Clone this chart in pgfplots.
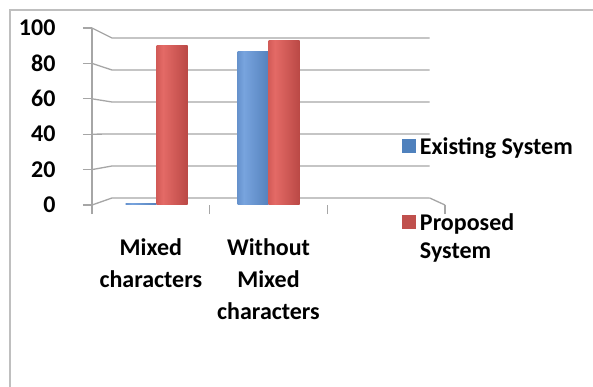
\documentclass[border=0pt]{standalone}
\usepackage{pgfplots}
\pgfplotsset{compat=1.18}
\usepackage{fontspec}
\setmainfont{Carlito}
\definecolor{gridgray}{HTML}{A6A6A6}
\definecolor{frame}{HTML}{BFBFBF}
\definecolor{blueE}{HTML}{3A66A2}
\definecolor{blueH}{HTML}{78A4DE}
\definecolor{blueE2}{HTML}{3F6CA8}
\definecolor{redE}{HTML}{A83835}
\definecolor{redH}{HTML}{E46A66}
\definecolor{redE2}{HTML}{A03431}
\definecolor{exblue}{HTML}{4F81BD}
\definecolor{prred}{HTML}{C0504D}
\pgfdeclarehorizontalshading{bluecyl}{100bp}{color(0bp)=(blueE); color(35bp)=(blueH); color(100bp)=(blueE2)}
\pgfdeclarehorizontalshading{redcyl}{100bp}{color(0bp)=(redE); color(35bp)=(redH); color(100bp)=(redE2)}
\newcommand{\lab}{\fontsize{24bp}{32bp}\selectfont\bfseries}
\newcommand{\st}{\rule[-9bp]{0pt}{28bp}}
\begin{document}
\begin{tikzpicture}
\useasboundingbox (0,0) rectangle (593bp,387bp);
\fill[white] (0,0) rectangle (593bp,387bp);
\draw[frame, line width=1.6bp] (10bp,0) -- (10bp,377bp) -- (593bp,377bp);
\begin{axis}[
  at={(92bp,182bp)}, anchor=south west,
  scale only axis, width=353bp, height=177bp,
  xmin=0, xmax=3, ymin=0, ymax=100,
  axis x line*=bottom, axis y line*=left,
  x axis line style={draw=none},
  y axis line style={gridgray, line width=1.3bp},
  tick align=outside, major tick length=9bp,
  tick style={gridgray, line width=1.3bp},
  ytick={0,20,40,60,80,100},
  xtick={0,1,2,3}, xticklabels={},
  extra x ticks={0.5,1.5},
  extra x tick labels={{Mixed\\characters},{Without\\Mixed\\characters}},
  extra x tick style={major tick length=0pt,
     xticklabel style={align=center, anchor=north, yshift=-30bp}},
  /pgf/number format/assume math mode=true,
  yticklabel style={anchor=east, xshift=-24bp},
  tick label style={font=\lab, text=black},
  clip=false,
  legend style={at={(axis description cs:0.868,0.403)}, anchor=north west,
     draw=none, fill=none, font=\lab, row sep=7.5bp,
     nodes={inner sep=0pt}, column sep=5bp},
  legend cell align=left,
]
% back wall gridlines with perspective
\pgfplotsinvokeforeach{0,20,40,60,80,100}{
  \draw[gridgray, line width=1.3bp] (axis cs:0,#1) -- (axis cs:0.17,{(7+1.6*#1)/1.77}) -- (axis cs:2.87,{(7+1.6*#1)/1.77});
}
\draw[gridgray, line width=1.3bp] (axis cs:2.87,{7/1.77}) -- (axis cs:3,0);
% Existing System
\addplot[ybar, bar width=31bp, bar shift=-15.5bp, draw=none,
   shade, shading=bluecyl, forget plot] coordinates {(0.55,1)};
\addplot[ybar, bar width=31bp, bar shift=-15.5bp, draw=none,
   shade, shading=bluecyl, forget plot] coordinates {(1.5,87)};
% Proposed System
\addplot[ybar, bar width=31bp, bar shift=15.5bp, draw=none,
   shade, shading=redcyl, forget plot] coordinates {(0.55,90)};
\addplot[ybar, bar width=31bp, bar shift=15.5bp, draw=none,
   shade, shading=redcyl, forget plot] coordinates {(1.5,93)};
\addlegendimage{legend image code/.code={\fill[exblue] (0bp,-6.5bp) rectangle (13bp,6.5bp);}}
\addlegendentry{\st Existing System}
\addlegendimage{empty legend}
\addlegendentry{\rule{0pt}{39bp}}
\addlegendimage{legend image code/.code={\fill[prred] (0bp,-6.5bp) rectangle (13bp,6.5bp);}}
\addlegendentry{\st Proposed}
\addlegendimage{empty legend}
\addlegendentry{\st System}
\end{axis}
\end{tikzpicture}
\end{document}
